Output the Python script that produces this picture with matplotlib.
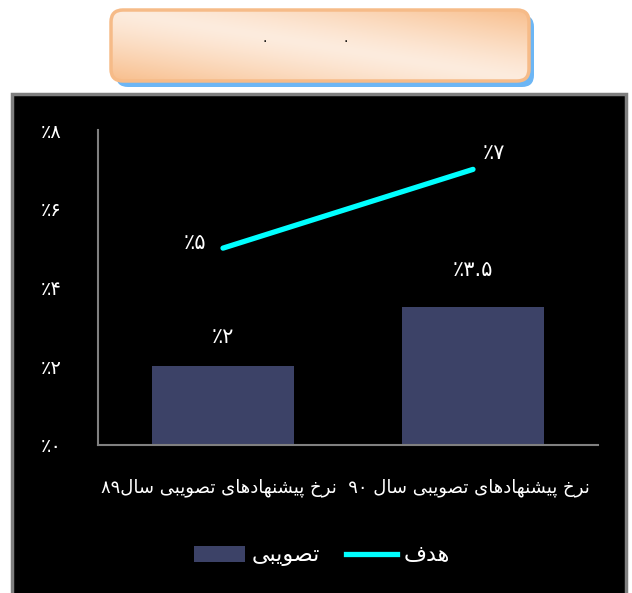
import re
import numpy as np
import matplotlib
matplotlib.use("Agg")
import matplotlib.pyplot as plt
from matplotlib.patches import FancyBboxPatch, Rectangle
from matplotlib.lines import Line2D

# داده‌ها
categories = ["نرخ پیشنهادهای تصویبی سال۸۹", "نرخ پیشنهادهای تصویبی سال ۹۰"]
approved = [2, 3.5]        # تصویبی
target = [5, 7]            # هدف
y_ticks = [0, 2, 4, 6, 8]
series_names = ["تصویبی", "هدف"]

# شکل‌دهی ساده حروف فارسی (matplotlib اتصال حروف را انجام نمی‌دهد)
FORMS = {
    'ا': ('\uFE8D', '\uFE8E', None, None),
    'ب': ('\uFE8F', '\uFE90', '\uFE91', '\uFE92'),
    'پ': ('\uFB56', '\uFB57', '\uFB58', '\uFB59'),
    'ت': ('\uFE95', '\uFE96', '\uFE97', '\uFE98'),
    'خ': ('\uFEA5', '\uFEA6', '\uFEA7', '\uFEA8'),
    'د': ('\uFEA9', '\uFEAA', None, None),
    'ر': ('\uFEAD', '\uFEAE', None, None),
    'س': ('\uFEB1', '\uFEB2', '\uFEB3', '\uFEB4'),
    'ش': ('\uFEB5', '\uFEB6', '\uFEB7', '\uFEB8'),
    'ص': ('\uFEB9', '\uFEBA', '\uFEBB', '\uFEBC'),
    'ف': ('\uFED1', '\uFED2', '\uFED3', '\uFED4'),
    'ل': ('\uFEDD', '\uFEDE', '\uFEDF', '\uFEE0'),
    'ن': ('\uFEE5', '\uFEE6', '\uFEE7', '\uFEE8'),
    'ه': ('\uFEE9', '\uFEEA', '\uFEEB', '\uFEEC'),
    'و': ('\uFEED', '\uFEEE', None, None),
    'ی': ('\uFBFC', '\uFBFD', '\uFBFE', '\uFBFF'),
}


def fa(text):
    out = []
    i = 0
    prev_joins = False
    while i < len(text):
        c = text[i]
        if c == 'ل' and i + 1 < len(text) and text[i + 1] == 'ا':
            out.append('\uFEFC' if prev_joins else '\uFEFB')
            prev_joins = False
            i += 2
            continue
        if c in FORMS:
            f = FORMS[c]
            nxt = text[i + 1] if i + 1 < len(text) else ''
            next_joins = f[2] is not None and nxt in FORMS
            if prev_joins and next_joins:
                out.append(f[3])
            elif prev_joins:
                out.append(f[1])
            elif next_joins:
                out.append(f[2])
            else:
                out.append(f[0])
            prev_joins = f[2] is not None
        else:
            out.append(c)
            prev_joins = False
        i += 1
    tokens = re.findall(r'[۰-۹]+|[^۰-۹]', ''.join(out))
    return ''.join(reversed(tokens))


def fa_pct(v):
    s = ('%g' % v).translate(str.maketrans('0123456789', '۰۱۲۳۴۵۶۷۸۹'))
    return '٪' + s


W, H = 632, 593
fig = plt.figure(figsize=(W / 100, H / 100), dpi=100)
fig.patch.set_facecolor('white')
plt.rcParams['font.family'] = ['DejaVu Sans']

# لایه تزئینی با مختصات پیکسلی
deco = fig.add_axes([0, 0, 1, 1])
deco.set_xlim(0, W)
deco.set_ylim(H, 0)
deco.axis('off')

# کادر بالایی با سایه آبی و گرادیان هلویی
deco.add_patch(FancyBboxPatch((116, 15), 418, 72, boxstyle="round,pad=0,rounding_size=12",
                              fc='#6cb6f5', ec='none'))
box = FancyBboxPatch((111, 10), 418, 71, boxstyle="round,pad=0,rounding_size=12",
                     fc='#fbe3d0', ec='none')
deco.add_patch(box)
gx, gy = np.meshgrid(np.linspace(-1, 1, 300), np.linspace(-1, 1, 80))
v = gy - gx
k = np.clip(np.abs(v) / 2, 0, 1) ** 1.3
light = np.array([253, 236, 222]) / 255
dark = np.array([248, 190, 140]) / 255
img = light[None, None, :] * (1 - k[..., None]) + dark[None, None, :] * k[..., None]
im = deco.imshow(img, extent=(111, 529, 81, 10), aspect='auto', zorder=2)
im.set_clip_path(box)
deco.add_patch(FancyBboxPatch((111, 10), 418, 71, boxstyle="round,pad=0,rounding_size=12",
                              fc='none', ec='#f6bb88', lw=2.5, zorder=3))
deco.text(265, 38, '.', ha='center', va='center', fontsize=10, color='black', zorder=4)
deco.text(346, 38, '.', ha='center', va='center', fontsize=10, color='black', zorder=4)

# پنل سیاه نمودار
deco.add_patch(Rectangle((12, 94), 614, 510, fc='black', ec='#7f7f7f', lw=2.5))

# محور اصلی
ax = fig.add_axes([98 / W, 1 - 445 / H, 500 / W, 315 / H])
ax.set_facecolor('none')
x = np.arange(len(categories))
ax.bar(x, approved, width=0.57, color='#3c4267', zorder=2)
ax.plot(x, target, color='#00ffff', lw=3.8, solid_capstyle='round', zorder=3)
ax.set_xlim(-0.5, 1.5)
ax.set_ylim(0, 8)
ax.set_yticks(y_ticks)
ax.set_yticklabels([fa_pct(v) for v in y_ticks], color='white', fontsize=14)
ax.tick_params(axis='y', length=0, pad=26)
ax.set_xticks([])
for s in ['top', 'right']:
    ax.spines[s].set_visible(False)
for s in ['left', 'bottom']:
    ax.spines[s].set_color('#808080')
    ax.spines[s].set_linewidth(1.5)

bar_offsets = [21, 27]
for xi, v, off in zip(x, approved, bar_offsets):
    ax.annotate(fa_pct(v), (xi, v), xytext=(0, off), textcoords='offset points',
                ha='center', va='center', color='white', fontsize=15)
ax.annotate(fa_pct(target[0]), (x[0], target[0]), xytext=(-20, 4), textcoords='offset points',
            ha='center', va='center', color='white', fontsize=15)
ax.annotate(fa_pct(target[1]), (x[1], target[1]), xytext=(15, 12), textcoords='offset points',
            ha='center', va='center', color='white', fontsize=15)

xlabel = fa(categories[1] + '  ' + categories[0])
fig.text(345 / W, 1 - 488 / H, xlabel, ha='center', va='center', color='white', fontsize=13)

handles = [Rectangle((0, 0), 1, 1, fc='#3c4267'),
           Line2D([], [], color='#00ffff', lw=3.8)]
leg = fig.legend(handles, [fa(n) for n in series_names], loc='center',
                 bbox_to_anchor=(322 / W, 1 - 556 / H), ncol=2, frameon=False,
                 fontsize=16, handlelength=2.3, handletextpad=0.3, columnspacing=1.2)
for txt in leg.get_texts():
    txt.set_color('white')

fig.savefig('out.png', dpi=100, facecolor='white')
